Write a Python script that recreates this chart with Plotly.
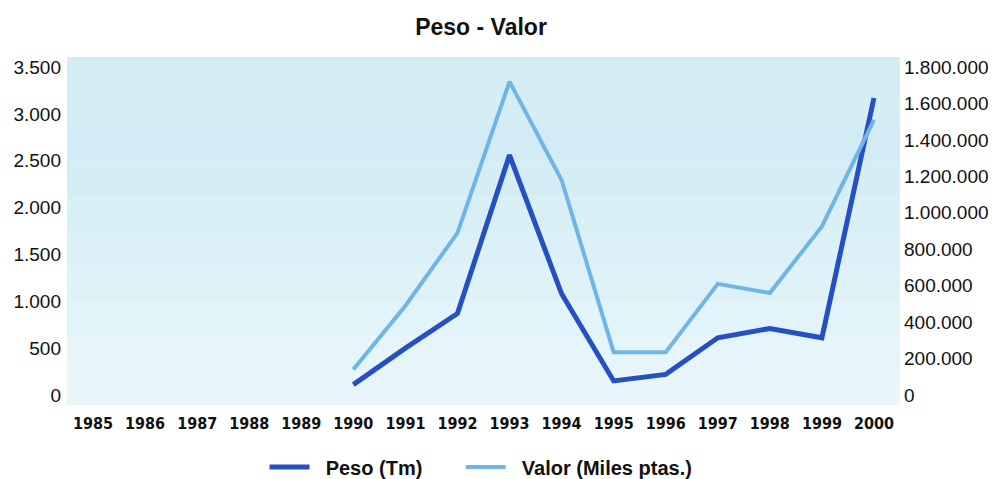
import plotly.graph_objects as go

years = [str(y) for y in range(1985, 2001)]
data_years = [str(y) for y in range(1990, 2001)]
peso = [110, 500, 870, 2560, 1080, 150, 220, 610, 710, 610, 3170]
valor = [140000, 490000, 890000, 1720000, 1180000, 235000, 235000, 610000, 560000, 925000, 1510000]

left_ticks = [0, 500, 1000, 1500, 2000, 2500, 3000, 3500]
left_labels = ["0", "500", "1.000", "1.500", "2.000", "2.500", "3.000", "3.500"]
right_ticks = [0, 200000, 400000, 600000, 800000, 1000000, 1200000, 1400000, 1600000, 1800000]
right_labels = ["0", "200.000", "400.000", "600.000", "800.000", "1.000.000",
                "1.200.000", "1.400.000", "1.600.000", "1.800.000"]

fig = go.Figure()
fig.add_trace(go.Scatter(x=data_years, y=peso,
                         name="&nbsp;&nbsp;<b>Peso (Tm)</b>&nbsp;&nbsp;&nbsp;&nbsp;&nbsp;&nbsp;",
                         mode="lines", line=dict(color="#2650c2", width=5), yaxis="y"))
fig.add_trace(go.Scatter(x=data_years, y=valor,
                         name="&nbsp;&nbsp;<b>Valor (Miles ptas.)</b>",
                         mode="lines", line=dict(color="#6fb5e7", width=4), yaxis="y2"))

# soft vertical gradient in the plot background
bands = ["#d4edf5", "#d5eef6", "#d2ebf4", "#d5edf5", "#d9eff6", "#dcf1f7",
         "#dff2f8", "#e2f4f9", "#e5f5fa", "#e8f6fa"]
n = len(bands)
for i, c in enumerate(bands):
    fig.add_shape(type="rect", xref="x domain", yref="y domain",
                  x0=0, x1=1, y0=1 - (i + 1) / n, y1=1 - i / n,
                  fillcolor=c, line=dict(width=0), layer="below")

fig.update_layout(
    width=998, height=479,
    margin=dict(l=67, r=98, t=57, b=74),
    paper_bgcolor="white",
    plot_bgcolor="#dcf0f7",
    title=dict(text="<b>Peso - Valor</b>", x=0.482, xanchor="center", xref="container",
               y=0.944, yanchor="middle", yref="container",
               font=dict(family="Liberation Sans, Arial", size=23, color="#111")),
    font=dict(family="Liberation Sans, Arial", color="#111"),
    xaxis=dict(type="category", categoryorder="array", categoryarray=years,
               tickvals=years, ticktext=[f"<b>{y}</b>" for y in years],
               range=[-0.5, 15.5], showgrid=False, zeroline=False, showline=False,
               ticks="", automargin=False, ticklabelstandoff=7,
               tickfont=dict(family="DejaVu Sans Condensed, Liberation Sans Narrow, Liberation Sans",
                             size=16, color="#111")),
    yaxis=dict(range=[-107, 3607], tickvals=left_ticks, ticktext=left_labels,
               showgrid=False, zeroline=False, showline=False, ticks="", automargin=False,
               tickfont=dict(size=19, color="#111"), ticklabelstandoff=5),
    yaxis2=dict(range=[-55000, 1855000], tickvals=right_ticks, ticktext=right_labels,
                overlaying="y", side="right", showgrid=False, zeroline=False, showline=False,
                ticks="", automargin=False, tickfont=dict(size=19, color="#111"),
                ticklabelstandoff=3),
    legend=dict(orientation="h", x=0.482, xanchor="center", xref="container",
                y=0.025, yanchor="middle", yref="container",
                font=dict(size=20, color="#111"), itemwidth=40, bgcolor="rgba(0,0,0,0)"),
    showlegend=True,
)

fig.write_html("out.html", config={"displayModeBar": False},
               post_script="document.body.style.margin='0';document.body.style.padding='0';")
